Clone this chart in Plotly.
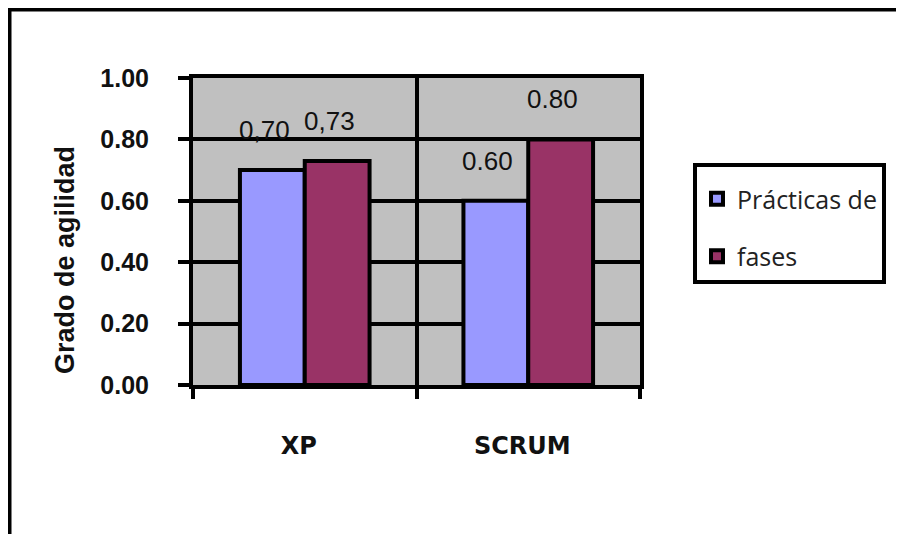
import plotly.graph_objects as go

categories = ["XP", "SCRUM"]
series_names = ["Prácticas de", "fases"]
practicas = [0.70, 0.60]
fases = [0.73, 0.80]
practicas_labels = ["0,70", "0.60"]
fases_labels = ["0,73", "0.80"]
y_ticks = [0.0, 0.2, 0.4, 0.6, 0.8, 1.0]
y_title = "Grado de agilidad"

W, H = 904, 534
OFF = 8  # page body offset
L, R, T, B = 193 - OFF, 640 - OFF, 78 - OFF, 385 - OFF

fig = go.Figure()
fig.add_trace(go.Bar(x=categories, y=practicas, name=series_names[0], legendgroup="a",
                     marker=dict(color="#9999FF", line=dict(color="black", width=4))))
fig.add_trace(go.Bar(x=categories, y=fases, name=series_names[1], legendgroup="b",
                     marker=dict(color="#993366", line=dict(color="black", width=4))))

pw = R - L
ph = B - T
def px(x):
    return (x - OFF - L) / pw
def py(y):
    return (B - (y - OFF)) / ph

ann = []
off = 0.145
for i in range(len(categories)):
    for vals, labs, o in ((practicas, practicas_labels, -off), (fases, fases_labels, off)):
        ann.append(dict(x=i + o, y=vals[i], xref="x", yref="y", text=labs[i], showarrow=False,
                        xshift=-8, yshift=40, font=dict(family="Liberation Sans", size=26, color="#111111")))
ann.append(dict(x=px(65), y=py(260), xref="paper", yref="paper", text=y_title, showarrow=False,
                textangle=-90, xanchor="center", yanchor="middle",
                font=dict(family="Liberation Sans", size=27, color="#111111", weight="bold")))

fig.update_layout(
    width=W, height=H,
    margin=dict(l=L, r=W - R, t=T, b=H - B, pad=0),
    paper_bgcolor="white", plot_bgcolor="#C0C0C0",
    barmode="group", bargap=0.42, bargroupgap=0,
    showlegend=True,
    legend=dict(x=px(693), y=py(163), xanchor="left", yanchor="top",
                bordercolor="black", borderwidth=4, bgcolor="white",
                font=dict(family="Open Sans", size=25, color="#222222"),
                title=dict(text=" ", font=dict(size=7)),
                tracegroupgap=22, traceorder="grouped"),
    annotations=ann,
    shapes=[dict(type="rect", xref="paper", yref="paper", x0=px(9), x1=px(915), y0=py(545), y1=py(9),
                 line=dict(color="black", width=5), fillcolor="rgba(0,0,0,0)", layer="below")],
    xaxis=dict(type="category", tickson="boundaries", showgrid=True, gridcolor="black", gridwidth=4,
               showline=True, linecolor="black", linewidth=4, mirror=True,
               ticks="outside", ticklen=10, tickwidth=4, tickcolor="black",
               tickfont=dict(family="DejaVu Sans", size=24, color="#111111", weight="bold"),
               ticklabelstandoff=36, ticklabelshift=-6),
    yaxis=dict(range=[0, 1], tickvals=y_ticks, tickformat=".2f", showgrid=True, gridcolor="black", gridwidth=4,
               showline=True, linecolor="black", linewidth=4, mirror=True, zeroline=False,
               ticks="outside", ticklen=11, tickwidth=4, tickcolor="black",
               tickfont=dict(family="Liberation Sans", size=25, color="#111111", weight="bold"),
               ticklabelstandoff=24),
)

fig.write_html("out.html")
